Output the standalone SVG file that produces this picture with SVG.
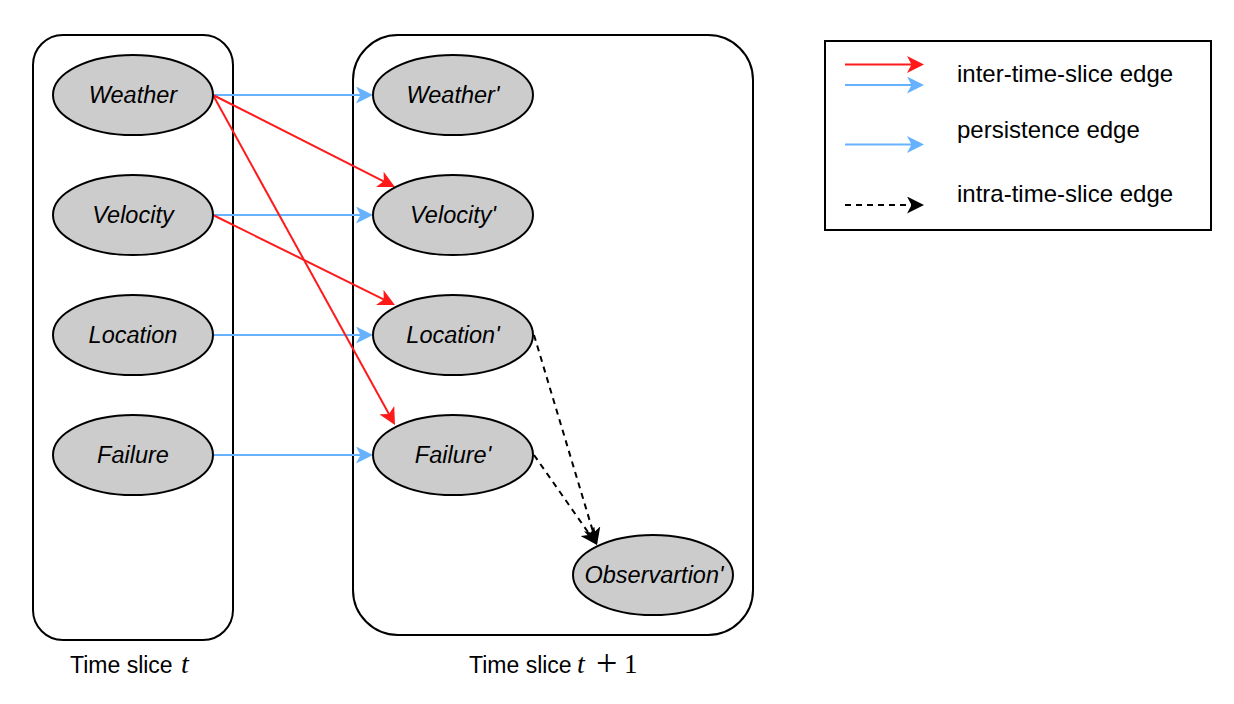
<svg xmlns="http://www.w3.org/2000/svg" width="1234" height="704" viewBox="0 0 1234 704">
<style>
.box{fill:none;stroke:#000;stroke-width:2}
.node ellipse{fill:#CCCCCC;stroke:#000;stroke-width:2}
.node text{font-family:"Liberation Sans",Arial,sans-serif;font-style:italic;font-size:23.5px;text-anchor:middle;fill:#000}
.lbl{font-family:"Liberation Sans",Arial,sans-serif;font-size:23px;fill:#000}
.mi{font-family:"Liberation Serif","Times New Roman",serif;font-style:italic;font-size:28px;fill:#000}
.mn{font-family:"Liberation Serif","Times New Roman",serif;font-size:27px;fill:#000}
.mo{font-family:"Liberation Serif","Times New Roman",serif;font-size:38px;fill:#000}
.leg{font-family:"Liberation Sans",Arial,sans-serif;font-size:24px;fill:#000}
.red{fill:none;stroke:#FF1A1A;stroke-width:2;marker-end:url(#mr)}
.blue{fill:none;stroke:#66B2FF;stroke-width:2;marker-end:url(#mb)}
.dash{fill:none;stroke:#000;stroke-width:2;stroke-dasharray:6 5;marker-end:url(#mk)}
</style>
<defs>
<marker id="mr" markerUnits="userSpaceOnUse" viewBox="0 0 17 17" markerWidth="17" markerHeight="17" refX="11" refY="8.5" orient="auto"><path d="M0,0 L17,8.5 L0,17 L4.5,8.5 Z" fill="#FF1A1A"/></marker>
<marker id="mb" markerUnits="userSpaceOnUse" viewBox="0 0 17 17" markerWidth="17" markerHeight="17" refX="11" refY="8.5" orient="auto"><path d="M0,0 L17,8.5 L0,17 L4.5,8.5 Z" fill="#66B2FF"/></marker>
<marker id="mk" markerUnits="userSpaceOnUse" viewBox="0 0 17 17" markerWidth="17" markerHeight="17" refX="11" refY="8.5" orient="auto"><path d="M0,0 L17,8.5 L0,17 L4.5,8.5 Z" fill="#000"/></marker>
</defs>
<rect width="1234" height="704" fill="#fff"/>
<g id="slice-t">
<rect class="box" x="33" y="35" width="200" height="605" rx="30"/>
<text class="lbl" x="70" y="673">Time slice</text>
<text class="mi" x="181" y="673">t</text>
</g>
<g id="slice-t1">
<rect class="box" x="353" y="35" width="400" height="600" rx="45"/>
<text class="lbl" x="469" y="673">Time slice</text>
<text class="mi" x="577" y="673">t</text>
<text class="mo" x="596" y="676">+</text>
<text class="mn" x="624" y="673">1</text>
</g>
<g id="connectors">
<path class="blue" d="M213,95 L367,95"/>
<path class="blue" d="M213,215 L367,215"/>
<path class="blue" d="M213,335 L367,335"/>
<path class="blue" d="M213,455 L367,455"/>
<path class="red" d="M213,95 L389.6,184.3"/>
<path class="red" d="M213,215 L389.6,302.3"/>
<path class="red" d="M213,95 L392.1,419.7"/>
<path class="dash" d="M534,335 L595.3,539.3"/>
<path class="dash" d="M534,455 L593.6,540.1"/>
</g>
<g id="weather" class="node"><ellipse cx="133" cy="95" rx="80" ry="40"/><text x="133" y="103">Weather</text></g>
<g id="velocity" class="node"><ellipse cx="133" cy="215" rx="80" ry="40"/><text x="133" y="223">Velocity</text></g>
<g id="location" class="node"><ellipse cx="133" cy="335" rx="80" ry="40"/><text x="133" y="343">Location</text></g>
<g id="failure" class="node"><ellipse cx="133" cy="455" rx="80" ry="40"/><text x="133" y="463">Failure</text></g>
<g id="weather2" class="node"><ellipse cx="453" cy="95" rx="80" ry="40"/><text x="453" y="103">Weather'</text></g>
<g id="velocity2" class="node"><ellipse cx="453" cy="215" rx="80" ry="40"/><text x="453" y="223">Velocity'</text></g>
<g id="location2" class="node"><ellipse cx="453" cy="335" rx="80" ry="40"/><text x="453" y="343">Location'</text></g>
<g id="failure2" class="node"><ellipse cx="453" cy="455" rx="80" ry="40"/><text x="453" y="463">Failure'</text></g>
<g id="observation2" class="node"><ellipse cx="653" cy="575" rx="80" ry="40"/><text x="654" y="583">Observartion'</text></g>
<g id="legend">
<rect class="box" x="825" y="41" width="386" height="189"/>
<path class="red" d="M845,64.5 L918,64.5"/>
<path class="blue" d="M845,85 L918,85"/>
<path class="blue" d="M845,144.5 L918,144.5"/>
<path class="dash" d="M845,205 L918,205"/>
<text class="leg" x="957" y="82">inter-time-slice edge</text>
<text class="leg" x="957" y="138">persistence edge</text>
<text class="leg" x="957" y="202">intra-time-slice edge</text>
</g>
</svg>
